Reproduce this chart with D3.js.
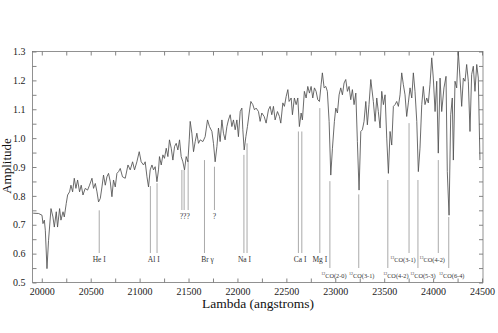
<!DOCTYPE html>
<html>
<head>
<meta charset="utf-8">
<script src="https://cdn.jsdelivr.net/npm/d3@7"></script>
<style>
  body { margin: 0; background: #fff; }
  text { font-family: "Liberation Serif", "Times New Roman", serif; }
</style>
</head>
<body>
<svg id="screen"></svg>
<script>
// spectrum
const lambda = [19912,19967,20002,20012,20026,20036,20053,20069,20094,20114,20128,20148,20161,20182,20196,20217,20230,20250,20264,20284,20298,20315,20332,20349,20366,20386,20403,20421,20444,20468,20488,20513,20529,20547,20564,20580,20598,20615,20631,20649,20666,20682,20700,20717,20733,20751,20768,20785,20802,20825,20853,20881,20904,20928,20948,20972,20996,21016,21040,21057,21075,21091,21108,21126,21142,21159,21177,21193,21203,21221,21238,21254,21272,21289,21305,21323,21340,21357,21374,21391,21408,21425,21442,21459,21476,21493,21507,21517,21534,21551,21568,21585,21602,21619,21647,21670,21694,21714,21739,21755,21772,21790,21806,21823,21841,21857,21874,21892,21908,21926,21943,21959,21977,21994,22010,22028,22045,22055,22069,22086,22102,22120,22137,22157,22174,22191,22215,22232,22249,22273,22293,22317,22334,22351,22368,22385,22409,22429,22443,22464,22480,22498,22515,22528,22549,22562,22582,22600,22617,22633,22651,22664,22684,22702,22719,22736,22753,22770,22787,22804,22821,22838,22855,22868,22886,22903,22919,22937,22954,22971,22991,23005,23022,23039,23056,23073,23090,23107,23124,23141,23158,23175,23192,23210,23226,23243,23261,23277,23294,23312,23328,23345,23363,23389,23407,23424,23440,23458,23475,23492,23509,23526,23543,23560,23577,23594,23611,23628,23645,23662,23679,23696,23713,23730,23747,23764,23782,23798,23815,23833,23849,23866,23884,23900,23917,23935,23951,23968,23986,24002,24020,24037,24053,24071,24088,24111,24132,24145,24163,24180,24196,24207,24224,24241,24257,24275,24292,24309,24326,24343,24360,24377,24394,24411,24428,24446,24462,24479]
const amplitude = [0.740,0.739,0.733,0.704,0.716,0.681,0.548,0.646,0.756,0.727,0.692,0.745,0.692,0.756,0.716,0.745,0.727,0.774,0.803,0.814,0.837,0.814,0.861,0.826,0.855,0.814,0.837,0.803,0.826,0.820,0.837,0.861,0.826,0.843,0.814,0.779,0.791,0.831,0.872,0.837,0.866,0.878,0.849,0.797,0.855,0.831,0.878,0.884,0.895,0.866,0.861,0.907,0.890,0.918,0.890,0.918,0.953,0.918,0.907,0.918,0.866,0.831,0.890,0.907,0.890,0.901,0.849,0.890,0.936,0.907,0.942,0.930,0.965,0.936,0.994,0.965,0.924,0.971,0.982,0.959,0.994,0.936,0.918,0.890,0.936,0.918,0.994,1.058,1.017,0.953,0.988,1.017,0.982,0.994,0.988,1.005,1.063,1.040,1.023,0.982,0.918,0.971,1.035,0.988,1.063,1.017,0.994,1.040,1.063,1.081,1.040,1.063,1.029,1.063,1.005,1.092,1.104,1.029,0.959,1.005,1.040,1.087,1.127,1.116,1.098,1.104,1.092,1.058,1.087,1.075,1.052,1.098,1.110,1.081,1.110,1.063,1.092,1.075,1.052,1.122,1.110,1.144,1.168,1.127,1.139,1.081,1.139,1.116,1.139,1.040,1.087,1.063,1.162,1.139,1.179,1.156,1.179,1.139,1.174,1.162,1.133,1.127,1.185,1.226,1.174,1.179,1.162,1.058,0.872,0.965,1.058,1.104,1.087,1.150,1.174,1.150,1.191,1.203,1.162,1.179,1.133,1.168,1.116,1.156,0.988,0.820,1.023,1.029,1.058,1.127,1.046,1.116,1.203,1.127,1.058,1.139,1.092,1.035,1.162,1.116,1.150,1.000,0.878,1.023,0.976,1.110,1.116,1.127,1.110,1.150,1.226,1.185,1.150,1.075,1.122,1.174,1.139,1.226,1.162,1.058,0.884,0.965,1.116,1.179,1.116,1.139,1.122,1.185,1.278,1.208,1.092,1.197,0.948,1.208,1.092,1.174,1.214,0.884,0.733,1.081,1.139,0.924,1.197,1.174,1.301,1.208,1.110,1.208,1.197,1.255,1.197,1.023,1.220,1.249,1.162,1.255,1.208,0.924]

// line identifications: label, wavelengths of the marker lines, amplitude where each marker starts
const featureLabels = ["He I","Al I","???","?","Br \u03b3","Na I","Ca I","Mg I",
                       "CO(2-0)","CO(3-1)","CO(4-2)","CO(5-3)","CO(6-4)","CO(3-1)","CO(4-2)"]
const featureIsotope = ["","","","","","","","","12","12","12","12","12","13","13"]
const featureLines = [[20587],[21110,21178],[21432,21455,21496],[21765],[21663],[22066,22098],
                      [22623,22658],[22842],[22945],[23240],[23537],[23845],[24160],[23754],[24053]]
const featureTops = [[0.750],[0.834,0.844],[0.890,0.890,0.924],[0.901],[0.924],[0.942,0.982],
                     [1.023,1.023],[1.104],[0.851],[0.805],[0.855],[0.855],[0.727],[1.052],[0.924]]
// which label row: 0 = question marks, 1 = main row, 2 = lower CO row
const featureRow = [1,1,0,0,1,1,1,1,2,2,2,2,2,1,1]

const xTicks = d3.range(20000, 24501, 250)
const yTicks = d3.range(0.5, 1.3001, 0.05)

let svg = {width: 498, height: 333}
let plot = {left: 32.5, right: 483, top: 51.5, bottom: 282.5}

let frame = d3.select('#screen')
  .attr('width', svg.width)
  .attr('height', svg.height)

frame.append('rect').attr('width', svg.width).attr('height', svg.height).attr('fill', '#fff')

let x = d3.scaleLinear().domain([19905, 24510]).range([plot.left, plot.right])
let y = d3.scaleLinear().domain([0.5, 1.3]).range([plot.bottom, plot.top])

// axes, ticks point inward on all four sides
const fmtX = d => (d % 500 === 0 ? d : '')
const fmtY = d => (Math.round(d * 100) % 10 === 0 ? d3.format('.1f')(d) : '')

function styleAxis(g) {
  g.select('.domain').remove()
  g.selectAll('line').attr('stroke', '#666').attr('stroke-width', 0.8)
  g.selectAll('text').attr('font-size', 10).attr('fill', '#222')
    .attr('font-family', '"Liberation Serif", "Times New Roman", serif')
}

frame.append('g')
  .attr('transform', 'translate(0,' + plot.bottom + ')')
  .call(d3.axisBottom(x).tickValues(xTicks).tickSize(-4).tickPadding(5).tickFormat(fmtX))
  .call(styleAxis)
frame.append('g')
  .attr('transform', 'translate(0,' + plot.top + ')')
  .call(d3.axisTop(x).tickValues(xTicks).tickSize(-4).tickFormat(''))
  .call(styleAxis)
frame.append('g')
  .attr('transform', 'translate(' + plot.left + ',0)')
  .call(d3.axisLeft(y).tickValues(yTicks).tickSize(-4).tickPadding(7).tickFormat(fmtY))
  .call(styleAxis)
frame.append('g')
  .attr('transform', 'translate(' + plot.right + ',0)')
  .call(d3.axisRight(y).tickValues(yTicks).tickSize(-4).tickFormat(''))
  .call(styleAxis)

frame.append('rect')
  .attr('x', plot.left).attr('y', plot.top)
  .attr('width', plot.right - plot.left).attr('height', plot.bottom - plot.top)
  .attr('fill', 'none').attr('stroke', '#777').attr('stroke-width', 0.8)

// axis titles
frame.append('text')
  .attr('x', 258).attr('y', 308)
  .attr('text-anchor', 'middle')
  .attr('font-size', 13.5)
  .attr('fill', '#111')
  .text('Lambda (angstroms)')
frame.append('text')
  .attr('transform', 'translate(10.5,166) rotate(-90)')
  .attr('text-anchor', 'middle')
  .attr('font-size', 13)
  .attr('fill', '#111')
  .text('Amplitude')

// marker lines and labels
const rowBottom = [210, 253, 268]
const rowBaseline = [219, 262, 278]
const labelNudge = {8: 4, 9: 3, 10: 8, 11: 5, 12: 3, 13: -6, 14: -6, 4: 3, 5: -1}

let marks = frame.append('g').attr('id', 'marks')
featureLabels.forEach(function(label, i) {
  let row = featureRow[i]
  featureLines[i].forEach(function(l, j) {
    marks.append('line')
      .attr('x1', x(l)).attr('x2', x(l))
      .attr('y1', y(featureTops[i][j])).attr('y2', rowBottom[row])
      .attr('stroke', '#aaa').attr('stroke-width', 1)
  })
  let cx = x(d3.mean(featureLines[i])) + (labelNudge[i] || 0)
  let t = marks.append('text')
    .attr('x', cx).attr('y', rowBaseline[row])
    .attr('text-anchor', 'middle')
    .attr('font-size', featureIsotope[i] ? 6.3 : 7.5)
    .attr('fill', '#333')
  if (featureIsotope[i]) {
    t.append('tspan').attr('font-size', 4).attr('dy', -3).text(featureIsotope[i])
    t.append('tspan').attr('dy', 3).text(label)
  } else {
    t.text(label)
  }
})

// the spectrum itself
frame.append('clipPath').attr('id', 'clip')
  .append('rect')
  .attr('x', plot.left).attr('y', plot.top)
  .attr('width', plot.right - plot.left).attr('height', plot.bottom - plot.top)

let line = d3.line()
  .x((d, i) => x(lambda[i]))
  .y(d => y(d))

frame.append('path')
  .datum(amplitude)
  .attr('clip-path', 'url(#clip)')
  .attr('d', line)
  .attr('fill', 'none')
  .attr('stroke', '#505050')
  .attr('stroke-width', 0.85)
  .attr('stroke-linejoin', 'round')
</script>
</body>
</html>
